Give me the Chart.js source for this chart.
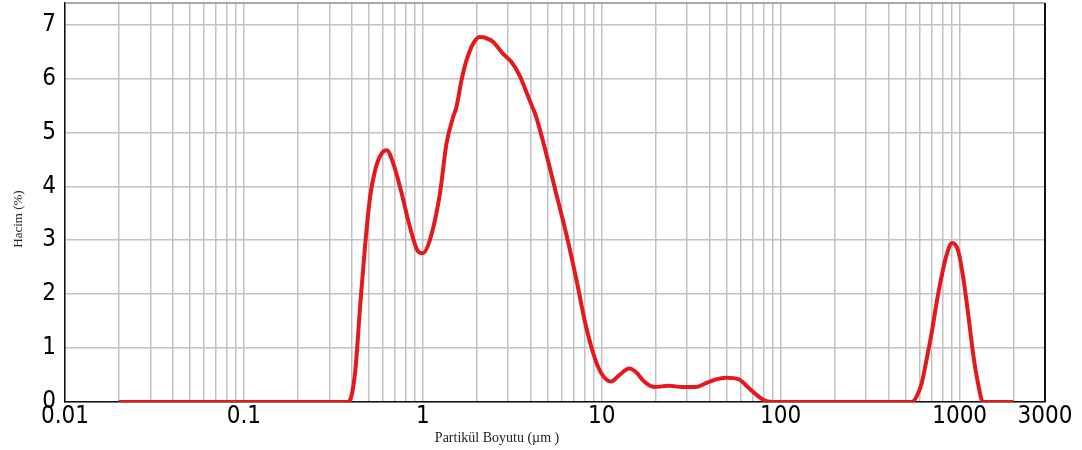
<!DOCTYPE html>
<html>
<head>
<meta charset="utf-8">
<script src="https://cdn.jsdelivr.net/npm/chart.js@4/dist/chart.umd.min.js"></script>
<style>
  html, body { margin: 0; padding: 0; background: #fff; }
  #wrap { width: 1082px; height: 450px; }
</style>
</head>
<body>
<div id="wrap"><canvas id="psd" width="1082" height="450"></canvas></div>
<script>
// particle size (µm) and volume (%)
const sizes = [0.02, 0.1, 0.3, 0.384, 0.418, 0.446, 0.475, 0.507, 0.541, 0.589,
  0.628, 0.684, 0.761, 0.846, 0.942, 1.0, 1.094, 1.244, 1.355, 1.475,
  1.541, 1.643, 1.752, 1.906, 2.077, 2.215, 2.464, 2.802, 3.12, 3.471,
  3.946, 4.298, 4.888, 5.557, 6.318, 7.184, 8.166, 9.284, 10.1, 11.26,
  12.52, 14.23, 15.57, 17.25, 19.61, 23.77, 28.09, 33.62, 38.21, 43.45,
  49.39, 58.34, 66.32, 75.41, 82.5, 93.8, 200, 539, 574.6, 612.7,
  653.1, 696.5, 742.6, 791.6, 844.2, 908.3, 980.9, 1045.9, 1115.3, 1189,
  1268, 1352, 2000];
const volume = [0, 0, 0, 0, 0.54, 1.77, 2.88, 3.80, 4.30, 4.61,
  4.67, 4.42, 3.87, 3.25, 2.79, 2.76, 3.00, 3.85, 4.79, 5.28,
  5.47, 5.96, 6.33, 6.64, 6.77, 6.76, 6.68, 6.46, 6.31, 6.06,
  5.60, 5.29, 4.61, 3.87, 3.13, 2.3, 1.4, 0.75, 0.5, 0.38,
  0.5, 0.62, 0.55, 0.38, 0.28, 0.30, 0.28, 0.28, 0.35, 0.42,
  0.45, 0.42, 0.26, 0.10, 0.02, 0, 0, 0, 0.1, 0.34,
  0.78, 1.27, 1.83, 2.32, 2.72, 2.95, 2.81, 2.32, 1.64, 0.9,
  0.34, 0, 0];

// axis ticks
const xLabels = [0.01, 0.1, 1, 10, 100, 1000, 3000];
const xMantissas = [1, 2, 3, 4, 5, 6, 7, 8, 9];
const xDecades = [0.01, 0.1, 1, 10, 100, 1000];
const yTicks = [0, 1, 2, 3, 4, 5, 6, 7];

const xGrid = [];
xDecades.forEach((d) => {
  xMantissas.forEach((m) => {
    const v = Number((m * d).toPrecision(6));
    if (v <= 3000) xGrid.push(v);
  });
});

const tickFont = { family: "'DejaVu Sans Condensed', 'DejaVu Sans', sans-serif", size: 24 };

// frame lines + axis titles
const framePlugin = {
  id: "frame",
  afterDraw(chart) {
    const { ctx, chartArea: a } = chart;
    ctx.save();
    ctx.lineWidth = 1.5;
    ctx.strokeStyle = "#8c8c8c";
    ctx.beginPath();
    ctx.moveTo(a.left, a.top);
    ctx.lineTo(a.right, a.top);
    ctx.stroke();
    ctx.lineWidth = 2;
    ctx.strokeStyle = "#111";
    ctx.beginPath();
    ctx.moveTo(a.right, a.top);
    ctx.lineTo(a.right, a.bottom);
    ctx.stroke();

    ctx.fillStyle = "#222";
    ctx.font = "14px 'Liberation Serif', serif";
    ctx.textBaseline = "alphabetic";
    ctx.textAlign = "left";
    const x1 = chart.scales.x.getPixelForValue(1);
    ctx.fillText("Partikül Boyutu (µm )", x1 + 12, 442);

    ctx.font = "13px 'Liberation Serif', serif";
    ctx.translate(22, 219);
    ctx.rotate(-Math.PI / 2);
    ctx.textAlign = "center";
    ctx.fillText("Hacim (%)", 0, 0);
    ctx.restore();
  },
};

new Chart(document.getElementById("psd"), {
  type: "line",
  data: {
    datasets: [
      {
        data: sizes.map((s, i) => ({ x: s, y: volume[i] })),
        borderColor: "#e3191c",
        borderWidth: 4,
        pointRadius: 0,
        cubicInterpolationMode: "monotone",
        fill: false,
      },
    ],
  },
  options: {
    responsive: false,
    animation: false,
    layout: { padding: { left: 0, right: 37, top: 3, bottom: 0 } },
    plugins: { legend: { display: false }, tooltip: { enabled: false } },
    scales: {
      x: {
        type: "logarithmic",
        min: 0.01,
        max: 3000,
        afterBuildTicks(scale) {
          scale.ticks = xGrid.map((v) => ({ value: v }));
        },
        afterFit(scale) {
          scale.height = 48;
          scale.paddingLeft = 0;
          scale.paddingRight = 0;
        },
        grid: { color: "#c2c2c2", lineWidth: 1.5, drawTicks: false },
        border: { color: "#111", width: 1.5 },
        ticks: {
          autoSkip: false,
          maxRotation: 0,
          padding: 0,
          color: "#000",
          font: tickFont,
          callback: (v) => (xLabels.includes(v) ? String(v) : ""),
        },
      },
      y: {
        min: 0,
        max: 7.4,
        afterBuildTicks(scale) {
          scale.ticks = yTicks.map((v) => ({ value: v }));
        },
        afterFit(scale) {
          scale.width = 65;
          scale.paddingTop = 0;
          scale.paddingBottom = 0;
        },
        grid: { color: "#c2c2c2", lineWidth: 1.5, drawTicks: false },
        border: { color: "#111", width: 1.5 },
        ticks: { padding: 9, color: "#000", font: tickFont },
      },
    },
  },
  plugins: [framePlugin],
});
</script>
</body>
</html>
